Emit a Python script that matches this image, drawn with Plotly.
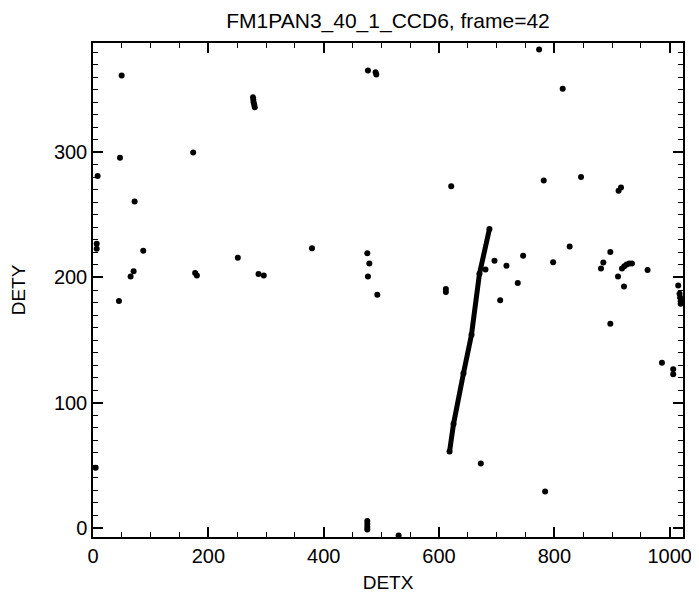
import plotly.graph_objects as go

# isolated events (DETX, DETY)
detx = [49.7, 46.8, 8.0, 72.2, 6.4, 6.4, 87.1, 70.4, 65.2, 45.0,
        173.7, 177.1, 180.1, 251.1, 277.5, 278.0, 278.5, 279.5, 280.5,
        287.0, 296.1, 379.7, 476.7, 490.0, 491.2, 773.5, 814.4, 621.1,
        781.5, 846.2, 911.3, 915.5, 475.6, 479.1, 476.7, 493.0, 611.8, 611.8,
        680.5, 696.1, 716.9, 736.5, 706.0, 745.8, 797.8, 826.5, 880.8, 884.8,
        897.0, 910.3, 920.7, 917.2, 921.2, 925.2, 929.9, 934.5, 961.6,
        1014.7, 1017.0, 1018.0, 1019.0, 1019.0, 897.0, 986.5, 1006.0, 1006.0,
        672.4, 783.9, 475.6, 475.6, 475.6, 475.6, 529.9, 4.6]
dety = [361.4, 295.6, 281.2, 260.7, 227.0, 223.0, 221.4, 204.9, 200.8, 181.3,
        299.9, 203.6, 201.6, 215.8, 344.0, 342.0, 340.0, 338.0, 336.0,
        202.8, 201.6, 223.3, 365.5, 364.1, 362.2, 382.3, 350.9, 272.9,
        277.5, 280.4, 269.4, 272.0, 219.3, 211.1, 200.8, 186.2, 190.8, 188.5,
        206.3, 213.3, 209.3, 195.5, 181.9, 217.4, 212.2, 224.7, 207.1, 211.9,
        220.3, 200.8, 192.7, 207.1, 209.0, 210.4, 211.2, 211.2, 206.0,
        193.5, 187.0, 184.0, 181.0, 179.0, 163.0, 131.8, 126.6, 122.6,
        51.3, 28.9, 5.4, 3.0, 0.5, -1.4, -6.3, 48.0]

# the long track
track_x = [618.2, 625.1, 642.4, 656.3, 670.1, 687.4]
track_y = [60.9, 82.9, 123.5, 154.3, 203.0, 238.7]

x_ticks = [0, 200, 400, 600, 800, 1000]
y_ticks = [0, 100, 200, 300]

font = "Liberation Sans, Arial, sans-serif"

fig = go.Figure()
fig.add_trace(go.Scatter(x=detx, y=dety, mode="markers",
                         marker=dict(color="black", size=6)))
fig.add_trace(go.Scatter(x=track_x, y=track_y, mode="lines+markers",
                         line=dict(color="black", width=5),
                         marker=dict(color="black", size=6)))

axis_style = dict(showline=True, linecolor="black", linewidth=1.5, mirror="allticks",
                  ticks="inside", ticklen=10, tickwidth=1.5, tickcolor="black",
                  showgrid=False, zeroline=False, automargin=False,
                  tickfont=dict(family=font, size=20, color="black"))

# page body has an 8px margin, so the figure is a bit smaller than the window
fig.update_layout(
    width=691, height=585, autosize=False,
    margin=dict(l=85, r=16, t=35, b=56, pad=0),
    paper_bgcolor="white", plot_bgcolor="white",
    showlegend=False,
    title=dict(text="FM1PAN3_40_1_CCD6, frame=42", x=0.55, xanchor="center",
               y=0.978, yanchor="middle",
               font=dict(family=font, size=21, color="black")),
    xaxis=dict(range=[0, 1023], tickvals=x_ticks, ticklabelstandoff=0,
               minor=dict(dtick=50, tick0=0, ticks="inside", ticklen=5,
                          tickwidth=1.2, tickcolor="black", showgrid=False),
               title=dict(text="DETX", standoff=18,
                          font=dict(family=font, size=19, color="black")),
               **axis_style),
    yaxis=dict(range=[-7.4, 387.4], tickvals=y_ticks,
               minor=dict(dtick=10, tick0=0, ticks="inside", ticklen=5,
                          tickwidth=1.2, tickcolor="black", showgrid=False),
               title=dict(text="DETY", standoff=24,
                          font=dict(family=font, size=19, color="black")),
               **axis_style),
)

fig.write_html("out.html")
